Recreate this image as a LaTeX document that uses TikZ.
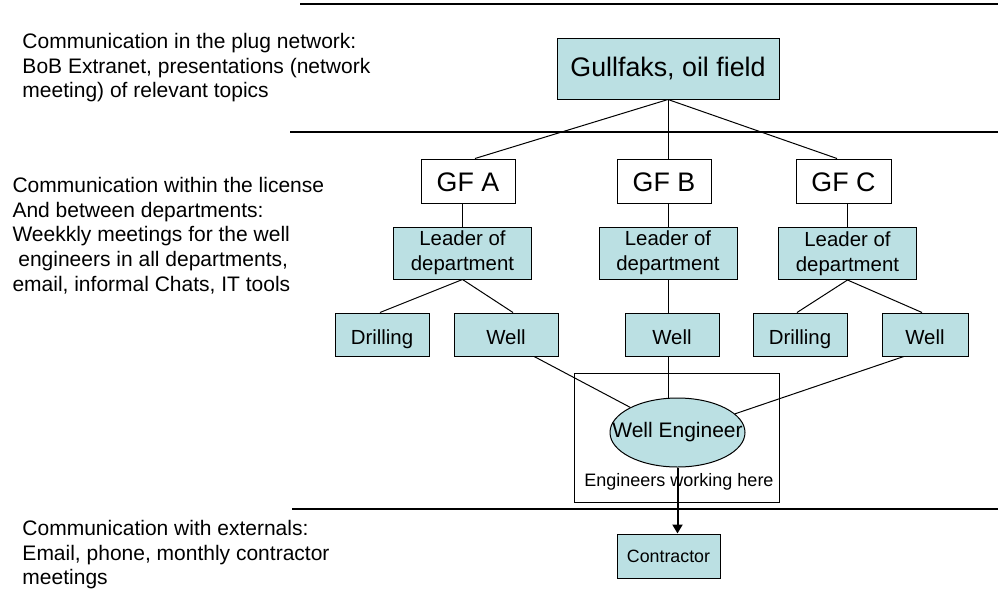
\documentclass[tikz,border=0pt]{standalone}
\usepackage{fontspec}
\setmainfont{Liberation Sans}
\usetikzlibrary{arrows.meta,shapes.geometric}
\definecolor{boxblue}{RGB}{187,224,227}
\begin{document}
\begin{tikzpicture}[x=0.5pt, y=-0.5pt, line width=0.5pt,
  every node/.style={inner sep=0pt},
  field/.style={draw, fill=boxblue, minimum width=111pt, minimum height=30.5pt, font=\fontsize{13.4}{16}\selectfont},
  gfbox/.style={draw, minimum height=22pt, text height=10.6pt, text depth=0pt, font=\fontsize{13.4}{16}\selectfont},
  leadbox/.style={draw, fill=boxblue, minimum width=69pt, minimum height=26pt, align=center, font=\fontsize{10.2}{12.5}\selectfont},
  unitbox/.style={draw, fill=boxblue, minimum height=21.5pt, text height=10.4pt, text depth=0pt, font=\fontsize{10.2}{12.5}\selectfont},
  notetext/.style={anchor=north west, align=left, font=\fontsize{10.5}{12.3}\selectfont},
  sepline/.style={line width=0.65pt}]
\useasboundingbox (0,0) rectangle (998,601);
\draw[sepline] (300,4) -- (998,4);
\draw[sepline] (290,132) -- (998,132);
\draw[sepline] (292,509) -- (998,509);
\node[notetext] (plugnote) at (22,33) {Communication in the plug network:\\BoB Extranet, presentations (network\\meeting) of relevant topics};
\node[notetext] (licnote) at (12,177) {Communication within the license\\And between departments:\\Weekkly meetings for the well\\\hspace*{0.28em}engineers in all departments,\\email, informal Chats, IT tools};
\node[notetext] (extnote) at (22,520) {Communication with externals:\\Email, phone, monthly contractor\\meetings};
\node[field] (gullfaks) at (668, 68.5) {Gullfaks, oil field};
\node[gfbox, minimum width=47pt] (gfa) at (468, 181) {GF A};
\draw (gullfaks.south) -- ([xshift=3.5pt]gfa.north);
\node[gfbox, minimum width=47pt] (gfb) at (664, 181) {GF B};
\draw (gullfaks.south) -- (gullfaks.south |- gfb.north);
\node[gfbox, minimum width=47.5pt] (gfc) at (843.5, 181) {GF C};
\draw (gullfaks.south) -- ([xshift=-3.25pt]gfc.north);
\node[leadbox] (leadera) at (462.5, 253) {Leader of\\department};
\draw (gfa.south -| leadera.north) -- (leadera.north);
\node[leadbox] (leaderb) at (668, 253) {Leader of\\department};
\draw (gfb.south -| leaderb.north) -- (leaderb.north);
\node[leadbox] (leaderc) at (847.5, 253.5) {Leader of\\department};
\draw (gfc.south -| leaderc.north) -- (leaderc.north);
\node[unitbox, minimum width=47pt] (drilla) at (382, 334.5) {Drilling};
\draw (leadera.south) -- ([xshift=-1pt]drilla.north);
\node[unitbox, minimum width=52pt] (wella) at (506, 334.5) {Well};
\draw (leadera.south) -- ([xshift=3.5pt]wella.north);
\node[unitbox, minimum width=47pt] (wellb) at (672, 334.5) {Well};
\draw (leaderb.south) -- (leaderb.south |- wellb.north);
\node[unitbox, minimum width=47pt] (drillc) at (800, 334.5) {Drilling};
\draw (leaderc.south) -- ([xshift=-1.5pt]drillc.north);
\node[unitbox, minimum width=43pt] (wellc) at (925, 334.5) {Well};
\draw (leaderc.south) -- ([xshift=-1.5pt]wellc.north);
\node[draw, minimum width=102.5pt, minimum height=64.5pt] (engbox) at (676.5, 437.5) {};
\node[draw, ellipse, fill=boxblue, inner xsep=-9pt, minimum width=67.5pt, minimum height=34.5pt, font=\fontsize{10.5}{12.5}\selectfont] (weng) at (677.5, 432.5) {Well Engineer};
\draw (wella.-38) -- (weng.152);
\draw (leaderb.south |- wellb.south) -- (leaderb.south |- weng.north);
\draw (wellc.-134) -- (weng.18);
\node[font=\fontsize{9}{11}\selectfont] (engtext) at (679, 482) {Engineers working here};
\node[draw, fill=boxblue, minimum width=51.5pt, minimum height=22pt, font=\fontsize{8.9}{11}\selectfont] (contractor) at (668.5, 556) {Contractor};
\draw[line width=1pt, -{Triangle[length=4.5pt, width=5pt]}] (weng.south) -- (weng.south |- contractor.north);

\end{tikzpicture}
\end{document}
